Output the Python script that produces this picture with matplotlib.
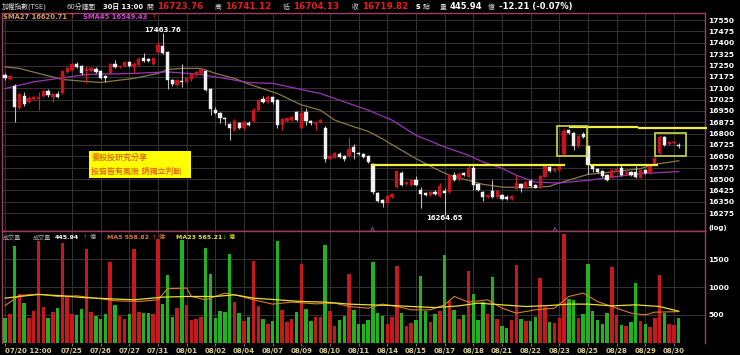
import matplotlib
matplotlib.use('Agg')
import matplotlib.pyplot as plt
from matplotlib.patches import Rectangle
import numpy as np

plt.rcParams['font.family'] = ['DejaVu Sans', 'Noto Sans CJK TC']

# ---------------- data ----------------
opens = [17187, 17158, 17116, 16970, 17047, 17008, 17028, 17031, 17050, 17081,
         17043, 17061, 17071, 17206, 17220, 17263, 17248, 17213, 17215, 17224,
         17213, 17180, 17198, 17257, 17238, 17245, 17271, 17243, 17253, 17297,
         17292, 17259, 17341, 17379, 17341, 17153, 17120, 17149, 17138, 17158,
         17187, 17202, 17215, 17094, 16955, 16937, 16905, 16861, 16827, 16871,
         16834, 16873, 16882, 16953, 17031, 17010, 17043, 17021, 16856, 16884,
         16889, 16944, 16840, 16944, 16882, 16862, 16877, 16840, 16635, 16642,
         16668, 16650, 16650, 16712, 16675, 16664, 16652, 16597, 16407, 16359,
         16341, 16381, 16447, 16542, 16465, 16458, 16491, 16425, 16407, 16392,
         16414, 16388, 16422, 16414, 16525, 16503, 16540, 16513, 16573, 16465,
         16414, 16381, 16421, 16379, 16392, 16381, 16366, 16437, 16470, 16443,
         16485, 16458, 16443, 16515, 16579, 16553, 16558, 16664, 16822, 16802,
         16720, 16796, 16721, 16586, 16569, 16552, 16525, 16509, 16546, 16576,
         16531, 16546, 16546, 16509, 16558, 16538, 16594, 16672, 16778, 16730,
         16738, 16723.76]
highs = [17200, 17187, 17127, 17067, 17076, 17047, 17051, 17074, 17090, 17094,
         17067, 17081, 17220, 17240, 17266, 17276, 17256, 17246, 17240, 17241,
         17220, 17187, 17266, 17286, 17256, 17279, 17279, 17273, 17306, 17330,
         17299, 17302, 17405, 17463.76, 17349, 17160, 17163, 17261, 17173, 17203,
         17216, 17233, 17223, 17100, 16975, 16945, 16910, 16869, 16898, 16879,
         16885, 16882, 16968, 17031, 17047, 17054, 17051, 17028, 16902, 16905,
         16918, 16952, 16977, 16968, 16889, 16882, 16895, 16849, 16657, 16680,
         16677, 16657, 16778, 16730, 16680, 16670, 16660, 16604, 16412, 16366,
         16392, 16405, 16561, 16551, 16488, 16498, 16518, 16445, 16415, 16422,
         16425, 16472, 16438, 16531, 16544, 16544, 16548, 16601, 16594, 16472,
         16422, 16399, 16496, 16425, 16399, 16392, 16392, 16525, 16475, 16488,
         16498, 16465, 16525, 16591, 16587, 16574, 16591, 16829, 16832, 16812,
         16793, 16809, 16726, 16594, 16574, 16558, 16531, 16564, 16578, 16594,
         16551, 16551, 16584, 16564, 16564, 16594, 16647, 16794, 16786, 16753,
         16750, 16741.12]
lows = [17153, 17153, 16877, 16961, 16985, 17001, 17021, 16955, 17044, 17041,
        17010, 17037, 17064, 17200, 17213, 17236, 17187, 17136, 17210, 17203,
        17163, 17142, 17193, 17233, 17233, 17240, 17243, 17200, 17246, 17276,
        17276, 17253, 17332, 17326, 17094, 17117, 17114, 17109, 17130, 17150,
        17180, 17196, 17084, 16922, 16932, 16869, 16856, 16761, 16819, 16832,
        16826, 16849, 16875, 16948, 17001, 17004, 16998, 16840, 16827, 16879,
        16882, 16882, 16832, 16856, 16856, 16822, 16872, 16613, 16630, 16637,
        16637, 16619, 16644, 16635, 16657, 16640, 16607, 16403, 16346, 16315,
        16336, 16376, 16438, 16455, 16458, 16452, 16455, 16311, 16386, 16386,
        16392, 16382, 16264.65, 16409, 16488, 16485, 16518, 16508, 16425, 16419,
        16354, 16376, 16372, 16372, 16359, 16359, 16362, 16432, 16414, 16438,
        16448, 16438, 16438, 16511, 16544, 16548, 16554, 16657, 16799, 16695,
        16713, 16773, 16536, 16548, 16541, 16515, 16485, 16505, 16541, 16521,
        16525, 16518, 16508, 16505, 16534, 16531, 16587, 16664, 16716, 16723,
        16733, 16704.13]
closes = [17167, 17180, 16977, 17059, 16994, 17037, 17043, 17041, 17083, 17052,
          17061, 17043, 17213, 17233, 17258, 17241, 17202, 17230, 17231, 17208,
          17170, 17170, 17257, 17238, 17248, 17271, 17249, 17263, 17296, 17281,
          17281, 17297, 17385, 17334, 17153, 17126, 17157, 17138, 17165, 17196,
          17208, 17224, 17091, 16960, 16937, 16906, 16895, 16837, 16884, 16840,
          16877, 16856, 16959, 17023, 17010, 17045, 17006, 16856, 16895, 16900,
          16910, 16889, 16937, 16884, 16867, 16871, 16889, 16635, 16650, 16672,
          16646, 16635, 16701, 16679, 16664, 16646, 16613, 16414, 16354, 16341,
          16386, 16399, 16553, 16463, 16480, 16491, 16463, 16403, 16392, 16414,
          16399, 16454, 16409, 16525, 16496, 16536, 16525, 16573, 16458, 16425,
          16381, 16392, 16381, 16419, 16369, 16370, 16388, 16474, 16443, 16480,
          16454, 16443, 16518, 16584, 16551, 16569, 16584, 16818, 16805, 16716,
          16786, 16778, 16591, 16564, 16546, 16519, 16491, 16558, 16569, 16528,
          16546, 16525, 16513, 16558, 16540, 16587, 16639, 16778, 16723, 16745,
          16745, 16719.82]
volumes = [451, 513, 1738, 875, 723, 440, 573, 1829, 651, 440,
           549, 632, 1792, 832, 513, 500, 609, 1696, 549, 488,
           428, 518, 1455, 681, 482, 428, 513, 1690, 549, 542,
           542, 518, 1877, 699, 1213, 458, 627, 1859, 681, 410,
           422, 458, 1708, 1237, 451, 573, 549, 1600, 741, 542,
           397, 464, 1479, 663, 428, 331, 391, 1841, 585, 379,
           428, 549, 1424, 609, 391, 464, 464, 1768, 573, 306,
           410, 488, 1237, 591, 337, 337, 410, 1448, 542, 488,
           337, 458, 1388, 542, 301, 350, 410, 1195, 573, 368,
           518, 573, 1587, 754, 591, 428, 500, 1297, 881, 410,
           730, 513, 1183, 428, 306, 259, 410, 1406, 428, 397,
           391, 458, 1165, 651, 379, 350, 440, 1962, 790, 772,
           440, 513, 1424, 573, 410, 337, 542, 1364, 500, 319,
           301, 379, 1074, 391, 337, 288, 440, 1213, 531, 337,
           319, 445.94]

sma27_bar = [0, 3, 7, 12, 16, 20, 27, 32, 34, 37, 41, 44, 48, 51, 57, 62, 66, 69,
             72, 76, 79, 83, 86, 90, 93, 97, 100, 104, 110, 114, 116, 122, 127,
             133, 136, 141]
sma27_val = [17241, 17231, 17198, 17158, 17147, 17138, 17165, 17198, 17224, 17231,
             17231, 17198, 17165, 17127, 17065, 16990, 16955, 16889, 16856, 16815,
             16765, 16690, 16635, 16569, 16525, 16491, 16465, 16447, 16443, 16452,
             16474, 16531, 16546, 16569, 16597, 16620.71]
sma45_bar = [0, 6, 12, 17, 27, 34, 41, 48, 51, 56, 66, 71, 76, 81, 86, 92, 97, 100,
             104, 107, 111, 116, 122, 127, 133, 141]
sma45_val = [17098, 17142, 17169, 17191, 17198, 17208, 17191, 17154, 17137, 17132,
             17065, 17010, 16955, 16889, 16789, 16712, 16657, 16613, 16571, 16525,
             16480, 16474, 16491, 16513, 16536, 16549.43]

ma5_bar = [0, 3, 7, 11, 15, 20, 23, 28, 32, 34, 38, 39, 42, 46, 49, 52, 56, 60, 65,
           69, 72, 76, 79, 82, 85, 89, 92, 94, 97, 101, 104, 107, 111, 115, 118,
           121, 124, 127, 131, 134, 136, 141]
ma5_val = [669, 850, 875, 832, 844, 790, 754, 741, 772, 971, 984, 832, 772, 893, 844,
           772, 694, 730, 699, 712, 651, 621, 694, 651, 591, 591, 681, 832, 730, 772,
           621, 531, 591, 621, 832, 893, 741, 651, 531, 500, 549, 558.82]
ma23_bar = [0, 3, 7, 12, 16, 22, 27, 33, 38, 44, 48, 52, 57, 62, 67, 72, 76, 81, 85,
            90, 95, 99, 104, 109, 114, 118, 122, 127, 132, 137, 141]
ma23_val = [802, 832, 868, 844, 814, 790, 772, 820, 832, 832, 862, 802, 772, 741, 730,
            694, 681, 669, 651, 632, 663, 712, 681, 651, 669, 694, 694, 663, 681, 651,
            565.21]

date_bar = [0, 14, 20, 26, 32, 38, 44, 50, 56, 62, 68, 74, 80, 86, 92, 98, 104,
            110, 116, 122, 128, 134, 140]
date_labels = ['07/20 12:00', '07/25', '07/26', '07/27', '07/31', '08/01', '08/02',
               '08/04', '08/07', '08/09', '08/10', '08/11', '08/14', '08/15', '08/17',
               '08/18', '08/21', '08/22', '08/23', '08/25', '08/28', '08/29', '08/30']
price_ticks = [16275, 16350, 16425, 16500, 16575, 16650, 16725, 16800, 16875, 16950,
               17025, 17100, 17175, 17250, 17325, 17400, 17475, 17550]
vol_ticks = [500, 1000, 1500]

# user-drawn annotations (bar index, price)
hlines_ann = [(76.9, 117.2, 16595), (118.0, 132.5, 16843), (132.5, 146.9, 16836),
              (122.4, 136.7, 16591)]
boxes_ann = [(115.5, 121.85, 16650, 16849), (136.0, 142.45, 16654, 16807)]
marker_bars = [76.9, 115.1]

# ---------------- figure ----------------
W, H = 740, 355
fig = plt.figure(figsize=(W / 100, H / 100), dpi=100, facecolor='black')


def fpos(l, t, r, b):
    return [l / W, 1 - b / H, (r - l) / W, (b - t) / H]


ax = fig.add_axes(fpos(2, 13, 705, 230.5), facecolor='black')
axv = fig.add_axes(fpos(2, 230.5, 705, 342.6), facecolor='black')

n = len(closes)
xs = np.arange(n)
GRID = '#343434'
SPINE = '#9a3f5c'
for a in (ax, axv):
    a.set_xlim(-0.65, 146.5)
    a.set_xticks(date_bar)
    a.grid(True, color=GRID, lw=0.7)
    a.set_axisbelow(True)
    for s in a.spines.values():
        s.set_color(SPINE)
        s.set_linewidth(1.0)
axv.spines['bottom'].set_visible(False)

# price axis
ax.set_ylim(16160, 17597)
ax.set_yticks(price_ticks)
ax.yaxis.tick_right()
ax.tick_params(axis='y', colors='white', labelsize=5.4, length=0, pad=2.5)
ax.tick_params(axis='x', length=0, labelbottom=False)
for lab in ax.get_yticklabels():
    lab.set_fontweight('bold')

# candles
UP = '#c8141c'
DN = '#f0f0f0'
wick_cols = []
for i in range(n):
    o, h, l, c = opens[i], highs[i], lows[i], closes[i]
    up = c >= o
    col = UP if up else DN
    wick_cols.append('#d42020' if up else '#c0c0c0')
    lo = min(o, c)
    hgt = max(abs(c - o), 4)
    ax.add_patch(Rectangle((i - 0.34, lo), 0.68, hgt, facecolor=col, edgecolor=col,
                           lw=0.3, zorder=4))
ax.vlines(xs, lows, highs, colors=wick_cols, lw=0.8, zorder=3)

ax.plot(sma27_bar, sma27_val, color='#8a7a48', lw=0.9, zorder=2)
ax.plot(sma45_bar, sma45_val, color='#9b34b8', lw=0.9, zorder=2)

for x0, x1, y in hlines_ann:
    ax.plot([x0, x1], [y, y], color='#f0f03c', lw=1.6, zorder=6, clip_on=False,
            solid_capstyle='butt')
for x0, x1, y0, y1 in boxes_ann:
    ax.add_patch(Rectangle((x0, y0), x1 - x0, y1 - y0, fill=False,
                           edgecolor='#c8e040', lw=1.2, zorder=6))
ax.scatter(marker_bars, [16168] * len(marker_bars), marker='^', s=8,
           facecolors='none', edgecolors='#a040c0', lw=0.6, zorder=6, clip_on=False)

ax.text(33, 17463.76, '17463.76', color='white', fontsize=5, fontweight='bold',
        ha='center', va='bottom', zorder=7)
ax.text(92, 16264.65, '16264.65', color='white', fontsize=5, fontweight='bold',
        ha='center', va='top', zorder=7)

# volume panel
vcols = ['#c8181c' if closes[i] >= opens[i] else '#1fb41f' for i in range(n)]
axv.bar(xs, volumes, width=0.72, color=vcols, zorder=3)
axv.plot(ma5_bar, ma5_val, color='#e07a2a', lw=0.8, zorder=4)
axv.plot(ma23_bar, ma23_val, color='#e8e030', lw=0.9, zorder=4)
axv.set_ylim(0, 2022)
axv.set_yticks(vol_ticks)
axv.yaxis.tick_right()
axv.tick_params(axis='y', colors='white', labelsize=5.4, length=0, pad=2.5)
for lab in axv.get_yticklabels():
    lab.set_fontweight('bold')
axv.set_xticklabels(date_labels)
axv.tick_params(axis='x', colors='#dcd090', labelsize=5, length=2.5, pad=1.5,
                color='#777777')
for lab in axv.get_xticklabels():
    lab.set_fontweight('bold')
axv.get_xticklabels()[0].set_horizontalalignment('left')


def ptext(x, y, s, color='#d8d8d8', size=5, weight='normal', ha='left', **kw):
    fig.text(x / W, 1 - y / H, s, color=color, fontsize=size, fontweight=weight,
             ha=ha, va='center', **kw)


RED = '#e81c1c'
# header line 1
ptext(1.7, 6.5, '加權指數(TSE)', size=4.9)
ptext(66.7, 6.5, '60分鐘圖', size=4.9)
ptext(103, 6.5, '30日 13:00', color='white', size=4.9, weight='bold')
ptext(146.7, 6.5, '開', size=4.9)
ptext(156.7, 6.5, '16723.76', color=RED, size=6.3, weight='bold')
ptext(215, 6.5, '高', size=4.9)
ptext(225, 6.5, '16741.12', color=RED, size=6.3, weight='bold')
ptext(283, 6.5, '低', size=4.9)
ptext(293, 6.5, '16704.13', color=RED, size=6.3, weight='bold')
ptext(351.7, 6.5, '收', size=4.9)
ptext(361.7, 6.5, '16719.82', color=RED, size=6.3, weight='bold')
ptext(416, 6.5, 's', color='white', size=5.5, weight='bold')
ptext(422.5, 6.5, '點', size=4.9)
ptext(440, 6.5, '量', size=4.9)
ptext(449.5, 6.5, '445.94', color='white', size=6.0, weight='bold')
ptext(488, 6.5, '億', size=4.9)
ptext(499, 6.5, '-12.21 (-0.07%)', color='white', size=6.0, weight='bold')
# header line 2
ptext(2.7, 16.7, 'SMA27 16620.71', color='#d09a58', size=4.9, weight='bold')
ptext(70, 16.7, '↑', color='#ff3030', size=4.4)
ptext(83, 16.7, 'SMA45 16549.43', color='#d040d8', size=4.9, weight='bold')
ptext(151.7, 16.7, '↑', color='#ff3030', size=4.4)
# volume header
ptext(2.7, 237.3, '成交量', color='#a8a8a8', size=4.4)
ptext(33, 237.3, '成交量', color='#a8a8a8', size=4.4)
ptext(55, 237.3, '445.94', color='white', size=4.5, weight='bold')
ptext(82.5, 237.3, '↑', color='#ff3030', size=4.0)
ptext(89.5, 237.3, '億', color='#a8a8a8', size=4.4)
ptext(106.7, 237.3, 'MA5 558.82', color='#e07a2a', size=4.5, weight='bold')
ptext(151.5, 237.3, '↑', color='#ff3030', size=4.0)
ptext(159, 237.3, '億', color='#e07a2a', size=4.4)
ptext(176, 237.3, 'MA23 565.21', color='#e8e030', size=4.5, weight='bold')
ptext(222, 237.3, '↓', color='#30c030', size=4.0)
ptext(229, 237.3, '億', color='#e8e030', size=4.4)
ptext(708, 228, '(log)', color='white', size=5, weight='bold')

# yellow note box
fig.patches.append(Rectangle((89 / W, 1 - 178.3 / H), (191 - 89) / W, (178.3 - 150.7) / H,
                             transform=fig.transFigure, facecolor='#ffff00',
                             edgecolor='none', zorder=8))
ptext(91, 157.5, '豪股投研究分享', color='#e04010', size=5.8, zorder=9)
ptext(91, 171, '投資皆有風險 請獨立判斷', color='#e04010', size=5.8, zorder=9)

fig.savefig('out.png', dpi=100, facecolor='black')
